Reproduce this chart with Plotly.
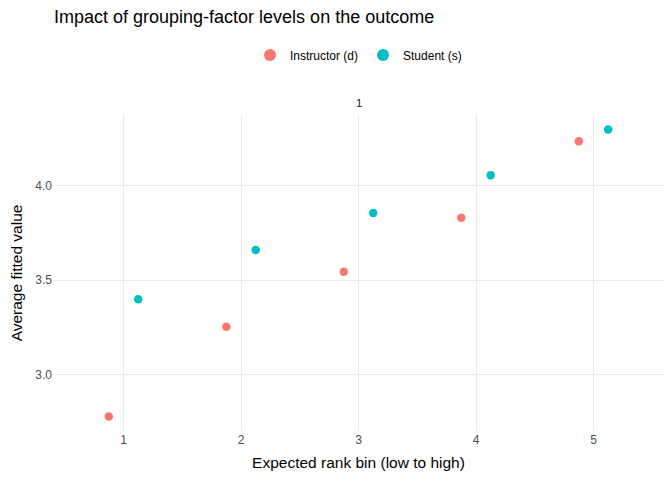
import plotly.graph_objects as go

# bins on the x axis
rank_bins = [1, 2, 3, 4, 5]

# average fitted values per group
instructor_vals = [2.78, 3.255, 3.545, 3.83, 4.234]
student_vals = [3.40, 3.66, 3.855, 4.055, 4.297]

y_ticks = [3.0, 3.5, 4.0]
y_tick_labels = ["3.0", "3.5", "4.0"]

fig = go.Figure()
fig.add_trace(go.Scatter(
    x=rank_bins, y=instructor_vals, name="Instructor (d)",
    mode="markers", offsetgroup="d",
    marker=dict(color="#F8766D", size=8.5),
))
fig.add_trace(go.Scatter(
    x=rank_bins, y=student_vals, name="Student (s)",
    mode="markers", offsetgroup="s",
    marker=dict(color="#00BFC4", size=8.5),
))

# facet strip label
fig.add_annotation(
    text="1", x=0.5, y=1, xref="paper", yref="paper",
    xanchor="center", yanchor="bottom", yshift=4, showarrow=False,
    font=dict(size=11.5, color="#1A1A1A"),
)

# the page body adds an 8px margin, so the figure is 8px smaller
fig.update_layout(
    width=664, height=472,
    margin=dict(l=45, r=8, t=107, b=49, autoexpand=False),
    paper_bgcolor="white", plot_bgcolor="white",
    font=dict(family="Liberation Sans, Arial, sans-serif", color="#000000"),
    scattermode="group", scattergap=0.5,
    title=dict(
        text="Impact of grouping-factor levels on the outcome",
        x=46 / 664, xref="container", xanchor="left",
        y=1 - 9 / 472, yref="container", yanchor="middle",
        font=dict(size=18, color="#000000"),
    ),
    legend=dict(
        orientation="h", x=0.5, xanchor="center", xref="paper",
        y=1.19, yanchor="middle", font=dict(size=12),
        itemsizing="constant", traceorder="normal",
    ),
    showlegend=True,
)

fig.update_xaxes(
    range=[0.4, 5.6], tickvals=rank_bins, ticktext=[str(b) for b in rank_bins],
    showgrid=True, gridcolor="#EBEBEB", gridwidth=1.1, zeroline=False,
    showline=False, ticks="", tickfont=dict(size=12, color="#4D4D4D"),
    automargin=False,
    title=dict(text="Expected rank bin (low to high)", font=dict(size=15.5), standoff=11),
)
fig.update_yaxes(
    range=[2.704, 4.373], tickvals=y_ticks, ticktext=y_tick_labels,
    showgrid=True, gridcolor="#EBEBEB", gridwidth=1.1, zeroline=False,
    showline=False, ticks="", tickfont=dict(size=12, color="#4D4D4D"),
    automargin=False,
    title=dict(text="Average fitted value", font=dict(size=15.5), standoff=10),
)

fig.write_html("out.html")
